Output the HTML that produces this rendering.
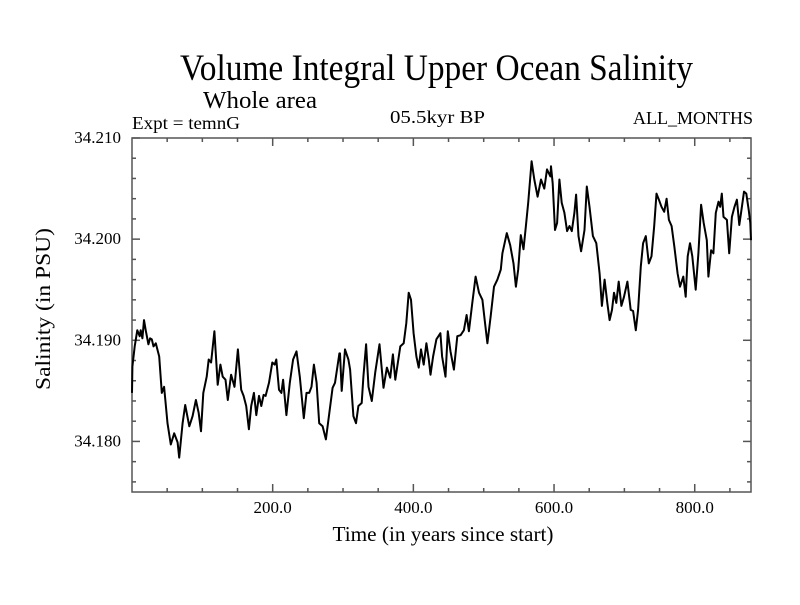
<!DOCTYPE html>
<html><head><meta charset="utf-8"><style>
body{margin:0;background:#fff}
svg text{font-family:"Liberation Serif",serif;fill:#000}
</style></head><body>
<svg id="chart" width="800" height="600" viewBox="0 0 800 600" xmlns="http://www.w3.org/2000/svg">
<text x="180" y="80" font-size="37" textLength="513" lengthAdjust="spacingAndGlyphs">Volume Integral Upper Ocean Salinity</text>
<text x="203" y="108" font-size="24" textLength="114" lengthAdjust="spacingAndGlyphs">Whole area</text>
<text x="132" y="129" font-size="18" textLength="108" lengthAdjust="spacingAndGlyphs">Expt = temnG</text>
<text x="390" y="123" font-size="18" textLength="95" lengthAdjust="spacingAndGlyphs">05.5kyr BP</text>
<text x="633" y="124" font-size="18" textLength="120" lengthAdjust="spacingAndGlyphs">ALL_MONTHS</text>
<text transform="translate(50,309) rotate(-90)" text-anchor="middle" font-size="21" textLength="162" lengthAdjust="spacingAndGlyphs">Salinity (in PSU)</text>
<text x="443" y="541" text-anchor="middle" font-size="21" textLength="221" lengthAdjust="spacingAndGlyphs">Time (in years since start)</text>
<g id="axes"></g>
<path id="line" fill="none" stroke="#000" stroke-width="2" stroke-linejoin="round"/>
</svg>
<script>
const years=[0,0.5,3.8,7.6,10.9,12.4,14.8,17.1,19.5,23.3,25.7,28.1,30.5,33.8,38.6,42.4,45.7,50.5,55.2,60.0,64.8,67.1,71.9,75.7,81.4,86.2,90.9,94.8,98.1,101.4,106.2,109.0,112.4,117.1,121.9,125.7,129.0,132.9,136.2,140.9,145.7,150.5,155.2,158.6,162.4,166.2,169.5,173.3,176.7,180.5,183.8,187.1,190.0,194.8,199.5,202.9,205.2,209.0,212.4,214.8,219.5,224.3,229.0,233.8,238.6,244.3,248.1,251.9,255.2,258.6,262.4,266.2,270.9,275.7,280.5,285.2,288.6,294.8,
295.7,298.1,302.8,307.6,310.0,314.7,318.5,321.9,326.6,329.0,332.8,336.2,340.9,345.7,351.9,357.6,362.4,367.1,370.9,374.3,381.4,386.2,390.0,393.3,396.6,400.4,404.3,407.6,410.9,414.7,418.5,421.9,424.3,428.1,432.8,438.5,440.9,445.7,449.0,452.8,457.6,462.4,467.1,471.9,475.7,479.0,483.8,488.5,493.3,498.1,501.4,505.2,510.0,514.7,519.5,524.3,526.6,532.8,537.6,542.4,545.7,549.0,552.8,556.6,560.0,563.3,568.1,571.9,576.6,581.4,586.2,590.0,594.8,
595.7,598.1,601.4,604.3,607.6,610.9,614.7,618.5,621.9,625.2,629.0,631.4,634.7,638.5,643.3,646.6,650.4,655.2,660.0,664.7,668.1,671.9,675.7,679.0,682.4,685.2,688.5,691.9,695.7,699.5,704.3,709.0,712.4,716.2,719.5,723.3,726.6,730.4,734.7,738.5,742.4,745.7,749.0,752.8,756.6,760.0,763.3,767.1,770.9,775.7,779.0,783.8,787.1,790.0,793.3,796.6,801.4,805.2,809.0,812.8,817.1,819.5,823.3,826.6,830.0,833.8,836.2,838.5,840.9,845.7,849.0,852.8,856.6,860.0,863.3,867.1,870.0,873.3,876.7,879.0,880];
const salinity=[34.1848,34.1874,34.1894,34.1910,34.1904,34.1910,34.1902,34.1920,34.1910,34.1896,34.1902,34.1901,34.1894,34.1897,34.1884,34.1848,34.1854,34.1818,34.1797,34.1808,34.1799,34.1784,34.1818,34.1836,34.1815,34.1825,34.1841,34.1828,34.1810,34.1848,34.1864,34.1881,34.1878,34.1909,34.1856,34.1876,34.1864,34.1861,34.1841,34.1866,34.1854,34.1891,34.1851,34.1845,34.1835,34.1812,34.1835,34.1848,34.1826,34.1845,34.1835,34.1846,34.1845,34.1858,34.1878,34.1876,34.1881,34.1851,34.1848,34.1861,34.1826,34.1858,34.1881,34.1889,34.1864,34.1823,34.1848,34.1848,34.1854,34.1876,34.1858,34.1818,34.1815,34.1802,34.1828,34.1853,34.1858,34.1887,
34.1887,34.1850,34.1891,34.1881,34.1871,34.1825,34.1818,34.1835,34.1838,34.1864,34.1896,34.1854,34.1840,34.1868,34.1896,34.1853,34.1873,34.1863,34.1886,34.1861,34.1894,34.1897,34.1917,34.1947,34.1940,34.1907,34.1884,34.1873,34.1891,34.1876,34.1897,34.1881,34.1866,34.1884,34.1901,34.1907,34.1884,34.1864,34.1909,34.1889,34.1871,34.1904,34.1905,34.1910,34.1925,34.1909,34.1937,34.1963,34.1947,34.1940,34.1920,34.1897,34.1924,34.1953,34.1960,34.1970,34.1986,34.2006,34.1994,34.1976,34.1953,34.1970,34.2004,34.1990,34.2013,34.2036,34.2077,34.2059,34.2042,34.2059,34.2050,34.2069,34.2062,
34.2072,34.2055,34.2009,34.2016,34.2059,34.2036,34.2026,34.2008,34.2013,34.2008,34.2026,34.2044,34.2003,34.1988,34.2009,34.2052,34.2032,34.2003,34.1996,34.1966,34.1934,34.1960,34.1937,34.1920,34.1930,34.1947,34.1937,34.1958,34.1934,34.1943,34.1958,34.1930,34.1929,34.1910,34.1930,34.1973,34.1996,34.2003,34.1976,34.1983,34.2013,34.2045,34.2039,34.2032,34.2027,34.2040,34.2019,34.2013,34.1993,34.1966,34.1953,34.1963,34.1943,34.1983,34.1996,34.1983,34.1950,34.1986,34.2034,34.2016,34.1999,34.1963,34.1989,34.1986,34.2026,34.2037,34.2032,34.2045,34.2022,34.2019,34.1986,34.2022,34.2032,34.2039,34.2014,34.2032,34.2047,34.2045,34.2029,34.2016,34.1999,34.1960];
const xTickValues=[200,400,600,800];
const xTickLabels=["200.0","400.0","600.0","800.0"];
const yTickValues=[34.18,34.19,34.20,34.21];
const yTickLabels=["34.180","34.190","34.200","34.210"];
const xDomain=[0,880], yDomain=[34.175,34.210];
const L=132,R=751,T=138,B=492;
function sx(v){return L+(v-xDomain[0])/(xDomain[1]-xDomain[0])*(R-L);}
function sy(v){return B-(v-yDomain[0])/(yDomain[1]-yDomain[0])*(B-T);}
const NS="http://www.w3.org/2000/svg";
const g=document.getElementById('axes');
function ln(x1,y1,x2,y2,name){const e=document.createElementNS(NS,'line');
e.setAttribute('x1',x1);e.setAttribute('y1',y1);e.setAttribute('x2',x2);e.setAttribute('y2',y2);
e.setAttribute('stroke','#555');e.setAttribute('stroke-width','1.5');


g.appendChild(e);}
const fr=document.createElementNS(NS,'rect');
fr.setAttribute('x',L);fr.setAttribute('y',T);fr.setAttribute('width',R-L);fr.setAttribute('height',B-T);
fr.setAttribute('fill','none');fr.setAttribute('stroke','#555');fr.setAttribute('stroke-width','1.5');


g.appendChild(fr);
for(let v=50;v<xDomain[1];v+=50){const x=sx(v);const len=(v%200===0)?8:4;
ln(x,B,x,B-len,'x-tick');ln(x,T,x,T+len,'x-tick-top');}
for(let i=0;i*0.002+yDomain[0]<=yDomain[1]+1e-9;i++){const v=yDomain[0]+i*0.002+0.001;if(v>yDomain[1])break;
const y=sy(v);const major=Math.abs((v*1000)%10)<0.01||Math.abs((v*1000)%10-10)<0.01;const len=major?8:4;
ln(L,y,L+len,y,'y-tick');ln(R,y,R-len,y,'y-tick-right');}
xTickValues.forEach((v,i)=>{const t=document.createElementNS(NS,'text');
t.setAttribute('x',sx(v));t.setAttribute('y',513);t.setAttribute('text-anchor','middle');t.setAttribute('font-size','17');
t.textContent=xTickLabels[i];


g.appendChild(t);});
yTickValues.forEach((v,i)=>{const t=document.createElementNS(NS,'text');
t.setAttribute('x',121);t.setAttribute('y',sy(v)+5);t.setAttribute('text-anchor','end');t.setAttribute('font-size','17');
t.textContent=yTickLabels[i];


g.appendChild(t);});
let d='';years.forEach((yr,i)=>{d+=(i?'L':'M')+sx(yr).toFixed(1)+','+sy(salinity[i]).toFixed(1);});
document.getElementById('line').setAttribute('d',d);
</script>
</body></html>
